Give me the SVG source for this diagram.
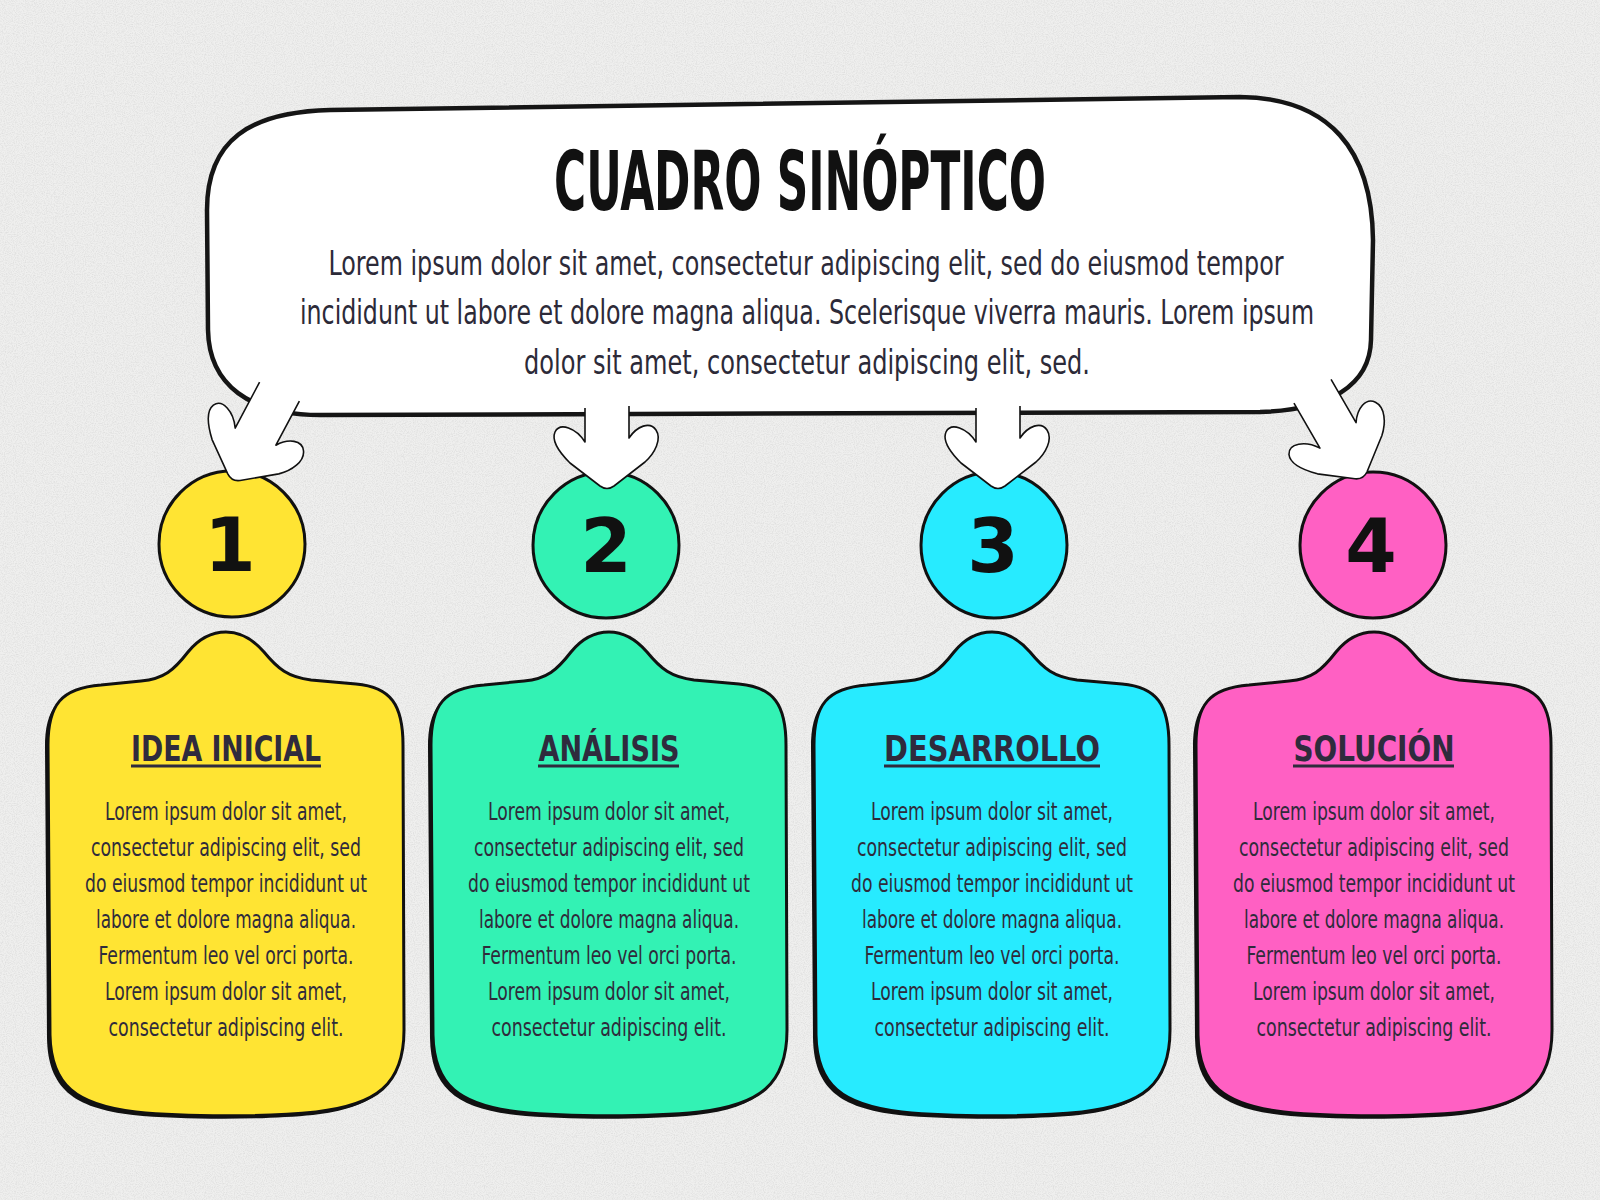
<svg xmlns="http://www.w3.org/2000/svg" width="1600" height="1200" viewBox="0 0 1600 1200">
<defs>
<style>
.title{font-family:'DejaVu Sans Condensed','DejaVu Sans','Liberation Sans',sans-serif;font-weight:bold;font-stretch:condensed;fill:#111;}
.para{font-family:'DejaVu Sans Condensed','DejaVu Sans','Liberation Sans',sans-serif;font-stretch:condensed;font-size:33px;fill:#2c2a38;text-anchor:middle;}
.body{font-family:'DejaVu Sans Condensed','DejaVu Sans','Liberation Sans',sans-serif;font-stretch:condensed;font-size:25px;fill:#2f2b3b;text-anchor:middle;}
.head{font-family:'DejaVu Sans','Liberation Sans',sans-serif;font-weight:bold;font-size:36px;fill:#2f2b3d;text-anchor:middle;}
.num{font-family:'DejaVu Sans','Liberation Sans',sans-serif;font-weight:bold;font-size:74px;fill:#111;text-anchor:middle;}
.uline{stroke:#2f2b3d;stroke-width:3;}
.card{stroke:#111;stroke-width:3;}
.shadow{fill:#111;}
.circ{stroke:#111;stroke-width:3;}
.arrow{fill:#fff;stroke:#111;stroke-width:1.6;stroke-linejoin:round;}
</style>
<filter id="paper" x="0" y="0" width="100%" height="100%">
<feTurbulence type="fractalNoise" baseFrequency="0.9" numOctaves="2" seed="7" result="n"/>
<feColorMatrix type="matrix" values="0 0 0 0 0.55  0 0 0 0 0.55  0 0 0 0 0.55  0 0 0 -2.2 1.35"/>
</filter>
<path id="cardShape" d="M -178,745 C -178,705 -165,688 -125,685 L -85,681 C -62,679 -52,670 -38,652 C -25,636 -12,632 0,632 C 12,632 25,637 38,652 C 52,669 62,677 85,680 L 130,684 C 165,687 177,705 177,745 L 178,1030 C 178,1085 150,1105 90,1112 C 40,1117 -40,1117 -90,1112 C -150,1105 -175,1085 -176,1035 Z"/>
<path id="arrowShape" d="M -22,-80 L -22,-46 C -31,-60 -47,-66 -52,-56 C -56,-47 -47,-35 -37,-25 L -7,-2 Q 0,3 7,-2 L 38,-26 C 48,-35 55,-49 49,-58 C 43,-67 30,-62 22,-50 L 22,-82"/>
<path id="arrowLong" d="M -22,-98 L -22,-46 C -31,-60 -47,-66 -52,-56 C -56,-47 -47,-35 -37,-25 L -7,-2 Q 0,3 7,-2 L 38,-26 C 48,-35 55,-49 49,-58 C 43,-67 30,-62 22,-50 L 22,-100"/>
</defs>

<rect width="1600" height="1200" fill="#efefee"/>
<rect width="1600" height="1200" filter="url(#paper)" opacity="0.35"/>

<g id="header">
<path d="M 330,110 L 1240,97 C 1330,98 1372,150 1373,240 L 1371,340 C 1370,385 1330,410 1260,412 L 320,415 C 250,415 209,385 208,330 L 207,210 C 207,140 250,112 330,110 Z" fill="#fff" stroke="#151515" stroke-width="4.5"/>
<text class="title" x="800" y="210" font-size="82" text-anchor="middle" textLength="492" lengthAdjust="spacingAndGlyphs">CUADRO SINÓPTICO</text>
<text class="para" x="806" y="275" textLength="955" lengthAdjust="spacingAndGlyphs">Lorem ipsum dolor sit amet, consectetur adipiscing elit, sed do eiusmod tempor</text>
<text class="para" x="807" y="324" textLength="1014" lengthAdjust="spacingAndGlyphs">incididunt ut labore et dolore magna aliqua. Scelerisque viverra mauris. Lorem ipsum</text>
<text class="para" x="807" y="374" textLength="566" lengthAdjust="spacingAndGlyphs">dolor sit amet, consectetur adipiscing elit, sed.</text>
</g>

<g id="node1">
<circle class="circ" cx="232" cy="544" r="73" fill="#ffe433"/>
<text class="num" x="230" y="571">1</text>
<use href="#cardShape" class="shadow" transform="translate(223,3)"/>
<use href="#cardShape" class="card" fill="#ffe433" transform="translate(226,0)"/>
<text class="head" x="226" y="761" textLength="190" lengthAdjust="spacingAndGlyphs">IDEA INICIAL</text>
<line class="uline" x1="131" y1="766" x2="321" y2="766"/>
<text class="body" x="226" y="820" textLength="242" lengthAdjust="spacingAndGlyphs">Lorem ipsum dolor sit amet,</text>
<text class="body" x="226" y="856" textLength="270" lengthAdjust="spacingAndGlyphs">consectetur adipiscing elit, sed</text>
<text class="body" x="226" y="892" textLength="282" lengthAdjust="spacingAndGlyphs">do eiusmod tempor incididunt ut</text>
<text class="body" x="226" y="928" textLength="260" lengthAdjust="spacingAndGlyphs">labore et dolore magna aliqua.</text>
<text class="body" x="226" y="964" textLength="255" lengthAdjust="spacingAndGlyphs">Fermentum leo vel orci porta.</text>
<text class="body" x="226" y="1000" textLength="242" lengthAdjust="spacingAndGlyphs">Lorem ipsum dolor sit amet,</text>
<text class="body" x="226" y="1036" textLength="235" lengthAdjust="spacingAndGlyphs">consectetur adipiscing elit.</text>
</g>

<g id="node2">
<circle class="circ" cx="606" cy="545" r="73" fill="#33f2b4"/>
<text class="num" x="606" y="572">2</text>
<use href="#cardShape" class="shadow" transform="translate(606,3)"/>
<use href="#cardShape" class="card" fill="#33f2b4" transform="translate(609,0)"/>
<text class="head" x="609" y="761" textLength="141" lengthAdjust="spacingAndGlyphs">ANÁLISIS</text>
<line class="uline" x1="538" y1="766" x2="679" y2="766"/>
<text class="body" x="609" y="820" textLength="242" lengthAdjust="spacingAndGlyphs">Lorem ipsum dolor sit amet,</text>
<text class="body" x="609" y="856" textLength="270" lengthAdjust="spacingAndGlyphs">consectetur adipiscing elit, sed</text>
<text class="body" x="609" y="892" textLength="282" lengthAdjust="spacingAndGlyphs">do eiusmod tempor incididunt ut</text>
<text class="body" x="609" y="928" textLength="260" lengthAdjust="spacingAndGlyphs">labore et dolore magna aliqua.</text>
<text class="body" x="609" y="964" textLength="255" lengthAdjust="spacingAndGlyphs">Fermentum leo vel orci porta.</text>
<text class="body" x="609" y="1000" textLength="242" lengthAdjust="spacingAndGlyphs">Lorem ipsum dolor sit amet,</text>
<text class="body" x="609" y="1036" textLength="235" lengthAdjust="spacingAndGlyphs">consectetur adipiscing elit.</text>
</g>

<g id="node3">
<circle class="circ" cx="994" cy="545" r="73" fill="#27ebff"/>
<text class="num" x="993" y="572">3</text>
<use href="#cardShape" class="shadow" transform="translate(989,3)"/>
<use href="#cardShape" class="card" fill="#27ebff" transform="translate(992,0)"/>
<text class="head" x="992" y="761" textLength="216" lengthAdjust="spacingAndGlyphs">DESARROLLO</text>
<line class="uline" x1="884" y1="766" x2="1100" y2="766"/>
<text class="body" x="992" y="820" textLength="242" lengthAdjust="spacingAndGlyphs">Lorem ipsum dolor sit amet,</text>
<text class="body" x="992" y="856" textLength="270" lengthAdjust="spacingAndGlyphs">consectetur adipiscing elit, sed</text>
<text class="body" x="992" y="892" textLength="282" lengthAdjust="spacingAndGlyphs">do eiusmod tempor incididunt ut</text>
<text class="body" x="992" y="928" textLength="260" lengthAdjust="spacingAndGlyphs">labore et dolore magna aliqua.</text>
<text class="body" x="992" y="964" textLength="255" lengthAdjust="spacingAndGlyphs">Fermentum leo vel orci porta.</text>
<text class="body" x="992" y="1000" textLength="242" lengthAdjust="spacingAndGlyphs">Lorem ipsum dolor sit amet,</text>
<text class="body" x="992" y="1036" textLength="235" lengthAdjust="spacingAndGlyphs">consectetur adipiscing elit.</text>
</g>

<g id="node4">
<circle class="circ" cx="1373" cy="545" r="73" fill="#ff60c3"/>
<text class="num" x="1371" y="572">4</text>
<use href="#cardShape" class="shadow" transform="translate(1371,3)"/>
<use href="#cardShape" class="card" fill="#ff60c3" transform="translate(1374,0)"/>
<text class="head" x="1374" y="761" textLength="161" lengthAdjust="spacingAndGlyphs">SOLUCIÓN</text>
<line class="uline" x1="1293" y1="766" x2="1454" y2="766"/>
<text class="body" x="1374" y="820" textLength="242" lengthAdjust="spacingAndGlyphs">Lorem ipsum dolor sit amet,</text>
<text class="body" x="1374" y="856" textLength="270" lengthAdjust="spacingAndGlyphs">consectetur adipiscing elit, sed</text>
<text class="body" x="1374" y="892" textLength="282" lengthAdjust="spacingAndGlyphs">do eiusmod tempor incididunt ut</text>
<text class="body" x="1374" y="928" textLength="260" lengthAdjust="spacingAndGlyphs">labore et dolore magna aliqua.</text>
<text class="body" x="1374" y="964" textLength="255" lengthAdjust="spacingAndGlyphs">Fermentum leo vel orci porta.</text>
<text class="body" x="1374" y="1000" textLength="242" lengthAdjust="spacingAndGlyphs">Lorem ipsum dolor sit amet,</text>
<text class="body" x="1374" y="1036" textLength="235" lengthAdjust="spacingAndGlyphs">consectetur adipiscing elit.</text>
</g>

<g id="connectors">
<use href="#arrowLong" class="arrow" transform="translate(233,479) rotate(28)"/>
<use href="#arrowShape" class="arrow" transform="translate(607,488)"/>
<use href="#arrowShape" class="arrow" transform="translate(998,488)"/>
<use href="#arrowLong" class="arrow" transform="translate(1362,477) rotate(-30)"/>
</g>
</svg>
